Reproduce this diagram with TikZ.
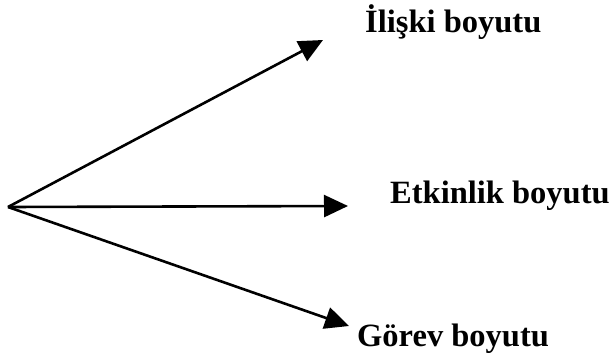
\documentclass[tikz,border=0pt]{standalone}
\usepackage{fontspec}
\setmainfont{Liberation Serif}
\usetikzlibrary{arrows.meta}
\begin{document}
\begin{tikzpicture}[x=1pt,y=-1pt,
  arr/.style={line width=2.6pt,-{Triangle[length=24pt,width=22pt]}},
  lbl/.style={anchor=base west,inner sep=0pt,font=\fontsize{32.5}{38}\selectfont\bfseries}]
\useasboundingbox (0,0) rectangle (609,353);
\coordinate (o) at (8,207);
\coordinate (t1) at (323,40);
\coordinate (t2) at (348,206);
\coordinate (t3) at (349,326);
\draw[arr] (o) -- (t1);
\draw[arr] (o) -- (t2);
\draw[arr] (o) -- (t3);
\node[lbl] (a) at (365,33) {İlişki boyutu};
\node[lbl] (b) at (390,203) {Etkinlik boyutu};
\node[lbl] (c) at (357,346) {Görev boyutu};
\end{tikzpicture}
\end{document}
